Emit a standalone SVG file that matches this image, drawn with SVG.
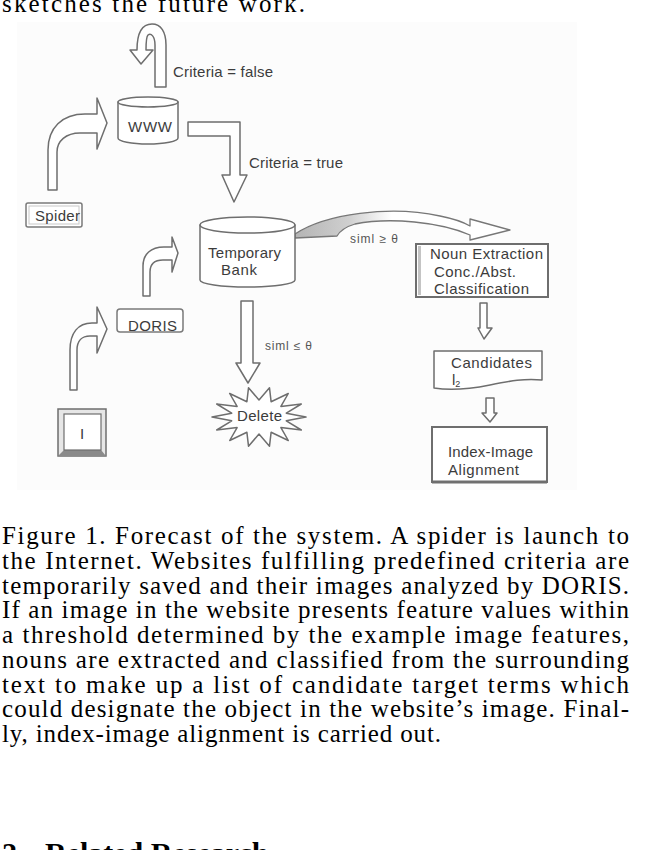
<svg xmlns="http://www.w3.org/2000/svg" width="655" height="850" viewBox="0 0 655 850">
<style>
.sh{fill:#fff;stroke:#6e6e6e;stroke-width:1.5;stroke-linejoin:round}
.lb{font-family:"Liberation Sans",Arial,sans-serif;font-size:15px;fill:#3c3c3c}
.sm{font-family:"Liberation Sans",Arial,sans-serif;font-size:12px;fill:#555}
.cap{font-family:"Liberation Serif","Times New Roman",serif;font-size:25px;fill:#000}
.hd{font-family:"Liberation Serif","Times New Roman",serif;font-size:30px;font-weight:bold;fill:#000}
</style>
<defs>
<linearGradient id="rib" x1="0" y1="0" x2="1" y2="0">
<stop offset="0" stop-color="#b4b4b4"/>
<stop offset="0.25" stop-color="#cfcfcf"/>
<stop offset="0.45" stop-color="#ffffff"/>
<stop offset="1" stop-color="#ffffff"/>
</linearGradient>
</defs>
<rect width="655" height="850" fill="#fff"/>
<text class="cap" x="2" y="12" font-size="29" textLength="303" lengthAdjust="spacing">sketches the future work.</text>
<rect x="17" y="22" width="560" height="468" fill="#fcfcfc"/>

<g id="connectors">
<path class="sh" d="M155,87 L155,45 C155,36 151,33 148,35 C146,37 146,42 146,50 L153,50 L141,64 L130,50 L137,50 C137,32 143,24 152,24 C161,24 166,32 166,45 L166,87 Z"/>
<path class="sh" d="M48,190 L48,150 C48,128 62,114 85,114 L97,114 L97,98 L107,123 L97,149 L97,133 L80,133 C66,133 57,141 57,152 L57,190 Z"/>
<path class="sh" d="M188,122 L240,122 L240,175 L247,175 L234,202 L222,175 L230,175 L230,136 L188,136 Z"/>
<path class="sh" d="M143,296 L143,266 C143,254 151,247 164,247 L172,247 L172,237 L178,253 L172,272 L172,260 L163,260 C155,260 150,264 150,272 L150,296 Z"/>
<path class="sh" d="M70,390 L70,350 C70,333 78,323 92,323 L97,323 L97,307 L107,329 L97,353 L97,336 L90,336 C82,336 77,341 77,350 L77,390 Z"/>
<path class="sh" d="M241,301 L253,301 L253,363 L260,363 L248,383 L236,363 L241,363 Z"/>
<path d="M295,234 C325,214 390,205 440,216 C455,219 465,223 470,226 L470,219 L510,230 L470,240 L470,235 C440,222 390,217 355,224 C345,227 340,231 337,236 L295,238 Z" fill="url(#rib)" stroke="#777" stroke-width="1.3" stroke-linejoin="round"/>
<path class="sh" d="M480,303 L487,303 L487,328 L492,328 L484,339 L478,328 L480,328 Z"/>
<path class="sh" d="M486,398 L494,398 L494,413 L497,413 L490,422 L482,413 L486,413 Z"/>
<text class="lb" x="173" y="77" textLength="100" lengthAdjust="spacing">Criteria = false</text>
<text class="lb" x="249" y="168" textLength="94" lengthAdjust="spacing">Criteria = true</text>
<text class="sm" x="350" y="243" textLength="48" lengthAdjust="spacing">siml ≥ θ</text>
<text class="sm" x="265" y="350" textLength="47" lengthAdjust="spacing">siml ≤ θ</text>
</g>

<g id="www">
<path class="sh" d="M118,102 L118,138 A30,6 0 0 0 178,138 L178,102 Z"/>
<ellipse class="sh" cx="148" cy="102" rx="30" ry="5"/>
<text class="lb" x="128" y="132" textLength="44" lengthAdjust="spacing">WWW</text>
</g>

<g id="spider">
<rect x="26" y="203" width="56" height="24" rx="2" fill="#fff" stroke="#7a7a7a" stroke-width="1.5"/>
<rect x="29" y="206" width="50" height="18" fill="none" stroke="#c8c8c8" stroke-width="1"/>
<text class="lb" x="35" y="221" textLength="45" lengthAdjust="spacing">Spider</text>
</g>

<g id="temporary-bank">
<path class="sh" d="M200,225 L200,280 A47.5,7 0 0 0 295,280 L295,225 Z"/>
<ellipse class="sh" cx="247.5" cy="225" rx="47.5" ry="8"/>
<text class="lb" x="208" y="258" textLength="73" lengthAdjust="spacing">Temporary</text>
<text class="lb" x="221" y="275" textLength="36" lengthAdjust="spacing">Bank</text>
</g>

<g id="doris">
<rect x="117" y="309" width="66" height="23" rx="3" fill="#fff" stroke="#7a7a7a" stroke-width="1.5"/>
<text class="lb" x="128" y="331" textLength="49" lengthAdjust="spacing">DORIS</text>
</g>

<g id="image-i">
<rect x="58" y="409" width="48" height="47" fill="#e6e6e6" stroke="#6e6e6e" stroke-width="1.5"/>
<path d="M58,456 L64,450 L101,450 L106,456 Z" fill="#8a8a8a"/>
<rect x="64" y="414" width="37" height="36" fill="#fff" stroke="#6e6e6e" stroke-width="1.2"/>
<text class="lb" x="80" y="439" fill="#6a6a6a">I</text>
</g>

<g id="delete">
<polygon class="sh" points="306,417 286.3,420.8 301.3,430 280.9,427.6 288.3,440.5 271.1,432.3 269.5,446.2 259,434 248.5,446.2 246.9,432.3 229.7,440.5 237.1,427.6 216.7,430 231.7,420.8 212,417 231.7,413.2 216.7,404 237.1,406.4 229.7,393.5 246.9,401.7 248.5,387.8 259,400 269.5,387.8 271.1,401.7 288.3,393.5 280.9,406.4 301.3,404 286.3,413.2"/>
<text class="lb" x="237" y="421" textLength="45" lengthAdjust="spacing">Delete</text>
</g>

<g id="noun-extraction">
<rect x="416" y="244" width="132" height="53" fill="#fff" stroke="#6e6e6e" stroke-width="2"/>
<rect x="418" y="246" width="3" height="49" fill="#c4c4c4"/>
<text class="lb" x="430" y="259" textLength="113" lengthAdjust="spacing">Noun Extraction</text>
<text class="lb" x="434" y="277" textLength="82" lengthAdjust="spacing">Conc./Abst.</text>
<text class="lb" x="434" y="294" textLength="95" lengthAdjust="spacing">Classification</text>
</g>

<g id="candidates">
<path class="sh" d="M434,351 L542,351 L542,380 C525,378 510,381 490,385 C470,389 452,391 434,388 Z" stroke-width="1.8"/>
<text class="lb" x="451" y="368" textLength="81" lengthAdjust="spacing">Candidates</text>
<text class="lb" x="452" y="385">l<tspan font-size="9" dy="2">2</tspan></text>
</g>

<g id="index-image">
<rect x="432" y="427" width="115" height="55" fill="#fff" stroke="#6e6e6e" stroke-width="2"/>
<line x1="432" y1="482" x2="547" y2="482" stroke="#6e6e6e" stroke-width="3"/>
<text class="lb" x="448" y="457" textLength="85" lengthAdjust="spacing">Index-Image</text>
<text class="lb" x="448" y="475" textLength="71" lengthAdjust="spacing">Alignment</text>
</g>

<g id="caption">
<text class="cap" x="2" y="544" textLength="627" lengthAdjust="spacing">Figure 1. Forecast of the system. A spider is launch to</text>
<text class="cap" x="2" y="568.75" textLength="627" lengthAdjust="spacing">the Internet. Websites fulfilling predefined criteria are</text>
<text class="cap" x="2" y="593.5" textLength="627" lengthAdjust="spacing">temporarily saved and their images analyzed by DORIS.</text>
<text class="cap" x="2" y="618.25" textLength="627" lengthAdjust="spacing">If an image in the website presents feature values within</text>
<text class="cap" x="2" y="643" textLength="627" lengthAdjust="spacing">a threshold determined by the example image features,</text>
<text class="cap" x="2" y="667.75" textLength="627" lengthAdjust="spacing">nouns are extracted and classified from the surrounding</text>
<text class="cap" x="2" y="692.5" textLength="627" lengthAdjust="spacing">text to make up a list of candidate target terms which</text>
<text class="cap" x="2" y="717.25" textLength="627" lengthAdjust="spacing">could designate the object in the website’s image. Final-</text>
<text class="cap" x="2" y="742" textLength="439" lengthAdjust="spacing">ly, index-image alignment is carried out.</text>
<text class="hd" x="2" y="863">2</text>
<text class="hd" x="45" y="863">Related Research</text>
</g>
</svg>
